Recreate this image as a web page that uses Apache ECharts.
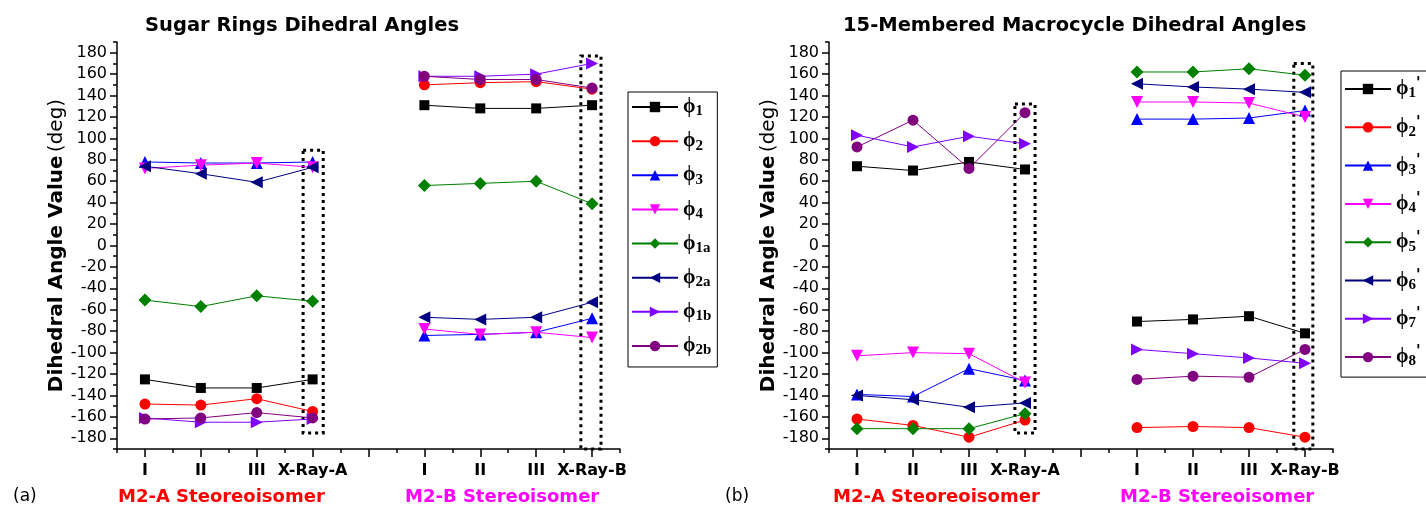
<!DOCTYPE html>
<html>
<head>
<meta charset="utf-8">
<script src="https://cdn.jsdelivr.net/npm/echarts@6/dist/echarts.min.js"></script>
<style>
  html, body { margin: 0; padding: 0; background: #ffffff; }
  #chart { width: 1426px; height: 515px; }
</style>
</head>
<body>
<div id="chart"></div>
<script>
// Category ticks along both x axes (slot 4 is the empty gap between the two stereoisomers)
const tickLabels = ['I', 'II', 'III', 'X-Ray-A', '', 'I', 'II', 'III', 'X-Ray-B'];
const pointSlots = [0, 1, 2, 3, 5, 6, 7, 8];
const yTickValues = [-180, -160, -140, -120, -100, -80, -60, -40, -20, 0, 20, 40, 60, 80, 100, 120, 140, 160, 180];

// (a) Sugar rings dihedral angles, deg: I, II, III, X-Ray-A | I, II, III, X-Ray-B
const sugarNames = ['ϕ1', 'ϕ2', 'ϕ3', 'ϕ4', 'ϕ1a', 'ϕ2a', 'ϕ1b', 'ϕ2b'];
const sugarPhi1  = [-125, -133, -133, -125,  131,  128,  128,  131];
const sugarPhi2  = [-148, -149, -143, -155,  150,  152,  153,  146];
const sugarPhi3  = [  78,   77,   77,   78,  -84,  -83,  -81,  -68];
const sugarPhi4  = [  72,   75,   77,   73,  -78,  -83,  -81,  -86];
const sugarPhi1a = [ -51,  -57,  -47,  -52,   56,   58,   60,   39];
const sugarPhi2a = [  74,   67,   59,   73,  -67,  -69,  -67,  -53];
const sugarPhi1b = [-161, -165, -165, -162,  158,  158,  160,  170];
const sugarPhi2b = [-162, -161, -156, -161,  158,  155,  155,  147];

// (b) 15-membered macrocycle dihedral angles, deg
const macroNames = ["ϕ1'", "ϕ2'", "ϕ3'", "ϕ4'", "ϕ5'", "ϕ6'", "ϕ7'", "ϕ8'"];
const macroPhi1 = [  74,   70,   78,   71,  -71,  -69,  -66,  -82];
const macroPhi2 = [-162, -168, -179, -163, -170, -169, -170, -179];
const macroPhi3 = [-139, -141, -115, -126,  118,  118,  119,  126];
const macroPhi4 = [-103, -100, -101, -128,  134,  134,  133,  120];
const macroPhi5 = [-171, -171, -171, -157,  162,  162,  165,  159];
const macroPhi6 = [-140, -144, -151, -147,  151,  148,  146,  143];
const macroPhi7 = [ 103,   92,  102,   95,  -97, -101, -105, -110];
const macroPhi8 = [  92,  117,   72,  124, -125, -122, -123,  -97];

// Dotted frames around the X-ray columns: [xFrom, yTop, xTo, yBottom]
const sugarFrames = [[2.83, 89, 3.19, -175], [7.80, 177, 8.16, -190]];
const macroFrames = [[2.82, 132, 3.18, -175], [7.80, 170, 8.14, -190]];

const sugarValues = [sugarPhi1, sugarPhi2, sugarPhi3, sugarPhi4, sugarPhi1a, sugarPhi2a, sugarPhi1b, sugarPhi2b];
const macroValues = [macroPhi1, macroPhi2, macroPhi3, macroPhi4, macroPhi5, macroPhi6, macroPhi7, macroPhi8];

// Marker look, shared by both panels (series k of each panel)
const markerStyles = [
  { color: '#000000', symbol: 'rect',     size: 10, rotate: 0 },
  { color: '#ff0000', symbol: 'circle',   size: 11, rotate: 0 },
  { color: '#0000ff', symbol: 'triangle', size: 12, rotate: 0 },
  { color: '#ff00ff', symbol: 'triangle', size: 12, rotate: 180 },
  { color: '#008000', symbol: 'diamond',  size: 13, rotate: 0 },
  { color: '#000080', symbol: 'triangle', size: 12, rotate: 90 },
  { color: '#8000ff', symbol: 'triangle', size: 12, rotate: -90 },
  { color: '#800080', symbol: 'circle',   size: 11, rotate: 0 }
];

const sans = 'DejaVu Sans';
const serif = 'Liberation Serif';

function toPoints(vals) {
  const pts = [];
  vals.forEach((v, i) => {
    if (i === 4) pts.push([4, '-']);          // break the line between the two groups
    pts.push([pointSlots[i], v]);
  });
  return pts;
}

function frameArea(frames) {
  return {
    silent: true,
    itemStyle: { color: 'rgba(0,0,0,0)', borderColor: '#000000', borderWidth: 3, borderType: [3, 4] },
    data: frames.map(f => [{ coord: [f[0], f[1]] }, { coord: [f[2], f[3]] }])
  };
}

function buildSeries(names, values, axisIndex, frames) {
  return names.map((name, k) => {
    const st = markerStyles[k];
    const s = {
      name: name,
      type: 'line',
      xAxisIndex: axisIndex * 2,
      yAxisIndex: axisIndex * 2,
      data: toPoints(values[k]),
      connectNulls: false,
      symbol: st.symbol,
      symbolSize: st.size,
      symbolRotate: st.rotate,
      lineStyle: { color: st.color, width: 1 },
      itemStyle: { color: st.color, borderWidth: 0 },
      emphasis: { disabled: true },
      animation: false,
      z: 3
    };
    if (k === 0) s.markArea = frameArea(frames);
    return s;
  });
}

function axesFor(gridIndex) {
  const lineStyle = { color: '#000000', width: 1.5 };
  return {
    x: [
      {
        type: 'value', gridIndex: gridIndex, min: -0.5, max: 8.5, position: 'bottom',
        axisLine: { show: true, onZero: false, lineStyle: lineStyle },
        axisTick: { show: true, inside: false, length: 8, lineStyle: lineStyle, customValues: [0, 1, 2, 3, 4, 5, 6, 7, 8] },
        axisLabel: {
          show: true, margin: 14, customValues: [0, 1, 2, 3, 4, 5, 6, 7, 8],
          formatter: v => tickLabels[Math.round(v)],
          fontFamily: sans, fontWeight: 'bold', fontSize: 16, color: '#000000'
        },
        splitLine: { show: false }
      },
      {
        type: 'value', gridIndex: gridIndex, min: -0.5, max: 8.5, interval: 0.5, position: 'bottom',
        axisLine: { show: false, onZero: false },
        axisTick: { show: true, inside: false, length: 4, lineStyle: lineStyle },
        axisLabel: { show: false },
        splitLine: { show: false }
      }
    ],
    y: [
      {
        type: 'value', gridIndex: gridIndex, min: -190, max: 190, position: 'left',
        axisLine: { show: true, onZero: false, lineStyle: lineStyle },
        axisTick: { show: true, inside: false, length: 7, lineStyle: lineStyle, customValues: yTickValues },
        axisLabel: {
          show: true, margin: 10, customValues: yTickValues,
          fontFamily: sans, fontSize: 16, color: '#000000'
        },
        splitLine: { show: false },
        name: '{b|Dihedral Angle Value} {n|(deg)}',
        nameLocation: 'middle',
        nameRotate: 90,
        nameGap: 50,
        nameTextStyle: {
          rich: {
            b: { fontFamily: sans, fontWeight: 'bold', fontSize: 20, color: '#000000' },
            n: { fontFamily: sans, fontSize: 20, color: '#000000' }
          }
        }
      },
      {
        type: 'value', gridIndex: gridIndex, min: -190, max: 190, interval: 10, position: 'left', offset: 0,
        axisLine: { show: false, onZero: false },
        axisTick: { show: true, inside: false, length: 4, lineStyle: lineStyle },
        axisLabel: { show: false },
        splitLine: { show: false }
      }
    ]
  };
}

const leftAxes = axesFor(0);
const rightAxes = axesFor(1);

// Legend label: ϕ with subscript, optional prime
function legendText(name) {
  const prime = name.endsWith("'");
  const sub = name.slice(1, prime ? -1 : undefined);
  return '{p|ϕ}{s|' + sub + '}' + (prime ? "{q|'}" : '');
}
const legendRich = {
  p: { fontFamily: serif, fontWeight: 'bold', fontSize: 20, lineHeight: 24, color: '#000000', verticalAlign: 'middle' },
  s: { fontFamily: serif, fontWeight: 'bold', fontSize: 15, lineHeight: 14, color: '#000000', verticalAlign: 'bottom' },
  q: { fontFamily: sans, fontWeight: 'bold', fontSize: 15, lineHeight: 14, color: '#000000', verticalAlign: 'top' }
};

function legendFor(names, left, top, gap, padding) {
  return {
    data: names,
    orient: 'vertical',
    left: left, top: top,
    itemWidth: 46, itemHeight: 13, itemGap: gap,
    padding: padding,
    borderColor: '#000000', borderWidth: 1,
    backgroundColor: '#ffffff',
    selectedMode: false,
    formatter: legendText,
    textStyle: { rich: legendRich, color: '#000000' }
  };
}

const titleStyle = { fontFamily: sans, fontWeight: 'bold', fontSize: 19.5, color: '#000000' };
const groupStyle = (color) => ({ fontFamily: sans, fontWeight: 'bold', fontSize: 18, fill: color });

const option = {
  backgroundColor: '#ffffff',
  animation: false,
  title: [
    { text: 'Sugar Rings Dihedral Angles', left: 145, top: 16, padding: 0, textStyle: titleStyle },
    { text: '15-Membered Macrocycle Dihedral Angles', left: 843, top: 16, padding: 0, textStyle: titleStyle }
  ],
  grid: [
    { left: 117, top: 42, width: 503, height: 407, outerBoundsMode: 'none', containLabel: false },
    { left: 829, top: 42, width: 504, height: 407, outerBoundsMode: 'none', containLabel: false }
  ],
  xAxis: leftAxes.x.concat(rightAxes.x),
  yAxis: leftAxes.y.concat(rightAxes.y),
  legend: [
    legendFor(sugarNames, 628, 92, 12.14, [5, 6, 9, 3]),
    legendFor(macroNames, 1341, 71, 14.3, [6, 60, 8, 3])
  ],
  graphic: [
    { type: 'text', left: 13, top: 488, style: { text: '(a)', fontFamily: sans, fontSize: 17, fill: '#000000' } },
    { type: 'text', left: 725, top: 488, style: { text: '(b)', fontFamily: sans, fontSize: 17, fill: '#000000' } },
    { type: 'text', left: 118, top: 488, style: Object.assign({ text: 'M2-A Steoreoisomer' }, groupStyle('#ff0000')) },
    { type: 'text', left: 405, top: 488, style: Object.assign({ text: 'M2-B Stereoisomer' }, groupStyle('#ff00ff')) },
    { type: 'text', left: 833, top: 488, style: Object.assign({ text: 'M2-A Steoreoisomer' }, groupStyle('#ff0000')) },
    { type: 'text', left: 1120, top: 488, style: Object.assign({ text: 'M2-B Stereoisomer' }, groupStyle('#ff00ff')) }
  ],
  series: buildSeries(sugarNames, sugarValues, 0, sugarFrames)
    .concat(buildSeries(macroNames, macroValues, 1, macroFrames))
};

const chart = echarts.init(document.getElementById('chart'), null, { renderer: 'canvas' });
chart.setOption(option);
</script>
</body>
</html>
